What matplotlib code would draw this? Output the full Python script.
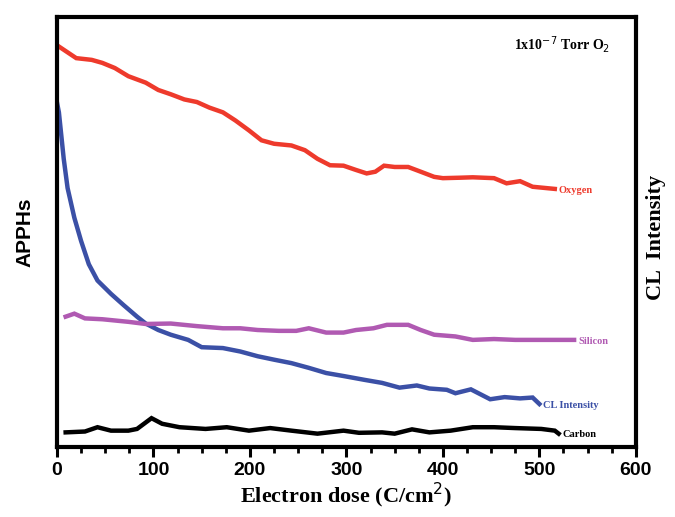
import matplotlib.pyplot as plt
from matplotlib.ticker import MultipleLocator

# values (y in % of the axis height, arbitrary units)
oxygen_x = [2, 20, 36, 47, 60, 74, 92, 105, 118, 132, 145, 158, 172, 185, 199, 212, 225,
            243, 257, 270, 283, 297, 310, 321, 330, 339, 350, 364, 377, 391, 400, 417, 431,
            453, 466, 480, 493, 516]
oxygen_y = [93.1, 90.4, 90.0, 89.3, 88.1, 86.2, 84.7, 83.0, 82.0, 80.8, 80.2, 78.9, 77.8,
            75.9, 73.6, 71.3, 70.5, 70.1, 69.0, 67.0, 65.5, 65.4, 64.4, 63.6, 64.0, 65.4,
            65.1, 65.1, 64.0, 62.8, 62.5, 62.6, 62.7, 62.5, 61.3, 61.8, 60.5, 60.0]

cl_x = [0, 2, 7, 11, 18, 25, 33, 42, 56, 69, 83, 92, 105, 118, 136, 150, 172, 190, 208,
        225, 243, 261, 279, 297, 319, 337, 355, 373, 386, 404, 413, 429, 449, 464, 480,
        493, 500]
cl_y = [80.1, 77.8, 67.0, 60.2, 53.3, 47.9, 42.5, 38.7, 35.6, 33.0, 30.3, 28.7, 27.2,
        26.1, 24.9, 23.2, 23.0, 22.2, 21.1, 20.3, 19.5, 18.4, 17.2, 16.5, 15.6, 14.9,
        13.8, 14.3, 13.6, 13.3, 12.5, 13.4, 11.1, 11.6, 11.3, 11.5, 10.0]

silicon_x = [9, 18, 29, 47, 74, 92, 118, 145, 172, 190, 208, 230, 248, 261, 279, 297,
             310, 328, 342, 364, 377, 391, 413, 431, 453, 475, 502, 536]
silicon_y = [30.3, 31.0, 29.9, 29.7, 29.1, 28.6, 28.7, 28.1, 27.6, 27.6, 27.2, 27.0,
             27.0, 27.6, 26.6, 26.6, 27.2, 27.6, 28.4, 28.4, 27.2, 26.1, 25.7, 24.9,
             25.1, 24.9, 24.9, 24.9]

carbon_x = [9, 29, 42, 56, 74, 83, 98, 109, 127, 154, 176, 199, 221, 243, 270, 297, 313,
            337, 350, 368, 386, 408, 431, 453, 475, 502, 516, 520]
carbon_y = [3.4, 3.6, 4.6, 3.8, 3.8, 4.2, 6.7, 5.4, 4.6, 4.2, 4.6, 3.8, 4.4, 3.8, 3.1,
            3.8, 3.3, 3.4, 3.1, 4.1, 3.4, 3.8, 4.6, 4.6, 4.4, 4.2, 3.8, 3.1]

series = [
    ("Oxygen", oxygen_x, oxygen_y, "#ee3a2c"),
    ("CL Intensity", cl_x, cl_y, "#3b50a6"),
    ("Silicon", silicon_x, silicon_y, "#b05ab2"),
    ("Carbon", carbon_x, carbon_y, "black"),
]

fig = plt.figure(figsize=(6.75, 5.17), dpi=100)
ax = fig.add_axes([0.0844, 0.1354, 0.8576, 0.832])

for name, xs, ys, col in series:
    ax.plot(xs, ys, color=col, lw=3.2, solid_joinstyle='miter')
    ax.text(xs[-1] + 4, ys[-1] - 0.3, name, color=col, fontsize=7.5, fontweight='bold',
            family='Liberation Serif', va='center', ha='left')

ax.set_xlim(0, 600)
ax.set_ylim(0, 100)
ax.xaxis.set_major_locator(MultipleLocator(100))
ax.xaxis.set_minor_locator(MultipleLocator(25))
ax.set_yticks([])
ax.tick_params(axis='x', which='major', direction='out', length=7, width=2.2, pad=4)
ax.tick_params(axis='x', which='minor', direction='out', length=4, width=2)
for lab in ax.get_xticklabels():
    lab.set_fontweight('bold')
    lab.set_fontsize(14)
    lab.set_family('Liberation Sans')
for sp in ax.spines.values():
    sp.set_linewidth(3)

ax.set_xlabel("Electron dose (C/cm$^2$)", fontsize=16, fontweight='bold',
              family='Liberation Serif', labelpad=1)
ax.set_ylabel("APPHs", fontsize=15, fontweight='bold', family='Liberation Sans', labelpad=16)
fig.text(0.972, 0.54, "CL  Intensity", rotation=90, fontsize=16, fontweight='bold',
         family='Liberation Serif', ha='center', va='center')
ax.text(0.955, 0.935, "1x10$^{-7}$ Torr O$_2$", transform=ax.transAxes, fontsize=10,
        fontweight='bold', family='Liberation Serif', ha='right', va='center')

fig.savefig("out.png", dpi=100)
